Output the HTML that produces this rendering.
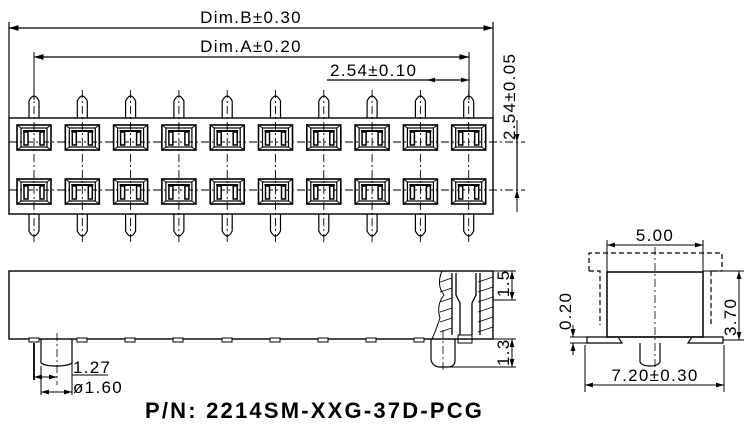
<!DOCTYPE html>
<html><head><meta charset="utf-8"><style>
html,body{margin:0;padding:0;background:#fff;}
svg{display:block;}
text{font-family:"Liberation Sans",Arial,sans-serif;fill:#000;}
.d{font-size:17px;letter-spacing:1.3px;}
</style></head><body>
<svg width="750" height="431" viewBox="0 0 750 431" xmlns="http://www.w3.org/2000/svg">
<defs>
<marker id="a" viewBox="0 0 10 6" refX="10" refY="3" markerWidth="8" markerHeight="5" orient="auto-start-reverse"><path d="M0,0 L10,3 L0,6 z" fill="#000"/></marker>
<g id="sq">
 <rect x="-17" y="-12" width="34" height="25" fill="none" stroke="#000" stroke-width="1.6"/>
 <rect x="-13" y="-9" width="26" height="19" fill="none" stroke="#000" stroke-width="1.2"/>
 <line x1="-17" y1="-12" x2="-13" y2="-9" stroke="#000"/><line x1="17" y1="-12" x2="13" y2="-9" stroke="#000"/>
 <line x1="-17" y1="13" x2="-13" y2="10" stroke="#000"/><line x1="17" y1="13" x2="13" y2="10" stroke="#000"/>
 <rect x="-10" y="-5" width="4" height="13" fill="#fff" stroke="#000" stroke-width="1.5"/>
 <rect x="6" y="-5" width="4" height="13" fill="#fff" stroke="#000" stroke-width="1.5"/>
 <line x1="-11" y1="-6" x2="11" y2="-6" stroke="#000" stroke-width="2"/>
</g>
<g id="pinT"><path d="M-5,23 L-5,6 Q0,-4 5,6 L5,23" fill="none" stroke="#000" stroke-width="1.2"/></g>
<g id="pinB"><path d="M-5,0 L-5,17 Q0,27 5,17 L5,0" fill="none" stroke="#000" stroke-width="1.2"/></g>
</defs>

<!-- top dims -->
<line x1="9" y1="22" x2="9" y2="118" stroke="#000" stroke-width="1.2"/>
<line x1="493" y1="22" x2="493" y2="118" stroke="#000" stroke-width="1.2"/>
<line x1="9" y1="28" x2="493" y2="28" stroke="#000" stroke-width="1.2" marker-start="url(#a)" marker-end="url(#a)"/>
<text x="251" y="23" class="d" text-anchor="middle">Dim.B±0.30</text>
<line x1="34" y1="52" x2="34" y2="100" stroke="#000"/>
<line x1="469" y1="52" x2="469" y2="100" stroke="#000"/>
<line x1="34" y1="57" x2="469" y2="57" stroke="#000" stroke-width="1.2" marker-start="url(#a)" marker-end="url(#a)"/>
<text x="251" y="52" class="d" text-anchor="middle">Dim.A±0.20</text>
<line x1="327" y1="80" x2="469" y2="80" stroke="#000" stroke-width="1.2"/>
<line x1="427" y1="80" x2="469" y2="80" stroke="#000" marker-start="url(#a)" marker-end="url(#a)"/>
<text x="330" y="76" class="d">2.54±0.10</text>

<!-- body top view -->
<rect x="9" y="118" width="484" height="96" fill="#fff" stroke="#000" stroke-width="1.4"/>
<line x1="9" y1="142" x2="525" y2="142" stroke="#000" stroke-width="0.9" stroke-dasharray="8,3,2,3"/>
<line x1="9" y1="190" x2="525" y2="190" stroke="#000" stroke-width="0.9" stroke-dasharray="8,3,2,3"/>
<g>
<use href="#pinT" x="34" y="95"/><use href="#pinT" x="82.3" y="95"/><use href="#pinT" x="130.6" y="95"/><use href="#pinT" x="178.9" y="95"/><use href="#pinT" x="227.2" y="95"/><use href="#pinT" x="275.5" y="95"/><use href="#pinT" x="323.8" y="95"/><use href="#pinT" x="372.1" y="95"/><use href="#pinT" x="420.4" y="95"/><use href="#pinT" x="468.7" y="95"/>
<use href="#pinB" x="34" y="214"/><use href="#pinB" x="82.3" y="214"/><use href="#pinB" x="130.6" y="214"/><use href="#pinB" x="178.9" y="214"/><use href="#pinB" x="227.2" y="214"/><use href="#pinB" x="275.5" y="214"/><use href="#pinB" x="323.8" y="214"/><use href="#pinB" x="372.1" y="214"/><use href="#pinB" x="420.4" y="214"/><use href="#pinB" x="468.7" y="214"/>
<use href="#sq" x="34" y="137"/><use href="#sq" x="82.3" y="137"/><use href="#sq" x="130.6" y="137"/><use href="#sq" x="178.9" y="137"/><use href="#sq" x="227.2" y="137"/><use href="#sq" x="275.5" y="137"/><use href="#sq" x="323.8" y="137"/><use href="#sq" x="372.1" y="137"/><use href="#sq" x="420.4" y="137"/><use href="#sq" x="468.7" y="137"/>
<use href="#sq" x="34" y="191"/><use href="#sq" x="82.3" y="191"/><use href="#sq" x="130.6" y="191"/><use href="#sq" x="178.9" y="191"/><use href="#sq" x="227.2" y="191"/><use href="#sq" x="275.5" y="191"/><use href="#sq" x="323.8" y="191"/><use href="#sq" x="372.1" y="191"/><use href="#sq" x="420.4" y="191"/><use href="#sq" x="468.7" y="191"/>
</g>
<g stroke="#000" stroke-width="0.9" stroke-dasharray="8,3,2,3">
<line x1="34" y1="90" x2="34" y2="242"/><line x1="82.3" y1="90" x2="82.3" y2="242"/><line x1="130.6" y1="90" x2="130.6" y2="242"/><line x1="178.9" y1="90" x2="178.9" y2="242"/><line x1="227.2" y1="90" x2="227.2" y2="242"/><line x1="275.5" y1="90" x2="275.5" y2="242"/><line x1="323.8" y1="90" x2="323.8" y2="242"/><line x1="372.1" y1="90" x2="372.1" y2="242"/><line x1="420.4" y1="90" x2="420.4" y2="242"/><line x1="468.7" y1="90" x2="468.7" y2="242"/>
</g>
<line x1="517" y1="120" x2="517" y2="142" stroke="#000" marker-end="url(#a)"/>
<line x1="517" y1="142" x2="517" y2="190" stroke="#000" stroke-width="1.2"/>
<line x1="517" y1="212" x2="517" y2="190" stroke="#000" marker-end="url(#a)"/>
<text transform="translate(515,140) rotate(-90)" class="d">2.54±0.05</text>

<!-- side view -->
<rect x="9" y="271" width="484" height="68" fill="none" stroke="#000" stroke-width="1.4"/>
<g fill="none" stroke="#000" stroke-width="1">
<path d="M442,271 Q436,285 444,295 Q436,305 440,318 Q436,330 432,339"/>
<g stroke-width="0.7">
<line x1="440" y1="282" x2="452" y2="278"/><line x1="440" y1="292" x2="452" y2="288"/><line x1="440" y1="302" x2="452" y2="298"/><line x1="440" y1="312" x2="452" y2="308"/><line x1="440" y1="322" x2="452" y2="318"/><line x1="440" y1="332" x2="452" y2="328"/>
<line x1="478" y1="282" x2="493" y2="277"/><line x1="478" y1="292" x2="493" y2="287"/><line x1="478" y1="302" x2="493" y2="297"/><line x1="478" y1="312" x2="493" y2="307"/><line x1="478" y1="322" x2="493" y2="317"/><line x1="478" y1="332" x2="493" y2="327"/>
</g>
<path d="M456,273 L456,295 L460,303 L460,335 M476,273 L476,295 L472,303 L472,335" stroke-width="1.3"/>
<path d="M452,273 L452,335 M480,273 L480,335" stroke-width="1.3"/>
<rect x="458" y="335" width="14" height="8"/>
<path d="M431,339 L431,360 Q433,367 440,367 L448,367 Q455,367 455,360 L455,339" stroke-width="1.2"/>
<path d="M41,339 L41,363 Q45,366 56,366 Q68,366 72,363 L72,339" stroke-width="1.2"/>
</g>
<g fill="#fff" stroke="#000" stroke-width="1">
<rect x="29" y="338" width="10" height="4"/><rect x="77" y="338" width="10" height="4"/><rect x="125" y="338" width="10" height="4"/><rect x="173" y="338" width="10" height="4"/><rect x="222" y="338" width="10" height="4"/><rect x="270" y="338" width="10" height="4"/><rect x="318" y="338" width="10" height="4"/><rect x="366" y="338" width="10" height="4"/><rect x="414" y="338" width="10" height="4"/>
</g>
<line x1="57" y1="333" x2="57" y2="385" stroke="#000" stroke-width="0.8" stroke-dasharray="8,3,2,3"/>
<line x1="443" y1="330" x2="443" y2="372" stroke="#000" stroke-width="0.8" stroke-dasharray="8,3,2,3"/>
<line x1="34" y1="343" x2="34" y2="380" stroke="#000" stroke-width="1.8"/>
<line x1="34" y1="377" x2="57" y2="377" stroke="#000" marker-start="url(#a)" marker-end="url(#a)"/>
<line x1="41" y1="366" x2="41" y2="395" stroke="#000"/>
<line x1="72" y1="346" x2="72" y2="395" stroke="#000"/>
<line x1="41" y1="392" x2="72" y2="392" stroke="#000" marker-start="url(#a)" marker-end="url(#a)"/>
<line x1="72" y1="375" x2="108" y2="375" stroke="#000"/>
<text x="73" y="373" class="d">1.27</text>
<text x="73" y="393" class="d">ø1.60</text>
<line x1="493" y1="271" x2="516" y2="271" stroke="#000"/>
<line x1="493" y1="300" x2="516" y2="300" stroke="#000"/>
<line x1="512" y1="271" x2="512" y2="300" stroke="#000" marker-start="url(#a)" marker-end="url(#a)"/>
<text transform="translate(509,297) rotate(-90)" class="d">1.5</text>
<line x1="493" y1="339" x2="516" y2="339" stroke="#000"/>
<line x1="443" y1="367" x2="516" y2="367" stroke="#000"/>
<line x1="512" y1="339" x2="512" y2="367" stroke="#000" marker-start="url(#a)" marker-end="url(#a)"/>
<text transform="translate(509,366) rotate(-90)" class="d">1.3</text>

<text x="145" y="418" font-size="22" font-weight="bold" letter-spacing="2.2">P/N: 2214SM-XXG-37D-PCG</text>

<!-- end view -->
<g fill="none" stroke="#000" stroke-width="1.2">
<path d="M589,271 L589,253 L722,253 L722,271" stroke-dasharray="5,3"/>
<path d="M589,271 L600,271 L600,325 M712,271 L722,271 M711,271 L711,325" stroke-dasharray="5,3"/>
<rect x="607" y="272" width="96" height="65" stroke-width="1.5"/>
<path d="M587,337 L618,337 L622,343 L587,343 z M723,337 L692,337 L688,343 L723,343 z"/>
<path d="M618,337 L692,337"/>
<path d="M640,343 L640,362 Q642,366 650,366 Q658,366 660,362 L660,343"/>
<line x1="655" y1="247" x2="655" y2="375" stroke-width="0.8" stroke-dasharray="8,3,2,3"/>
<line x1="607" y1="240" x2="607" y2="272" stroke-width="1"/><line x1="703" y1="240" x2="703" y2="272" stroke-width="1"/>
<line x1="607" y1="245" x2="703" y2="245" stroke-width="1" marker-start="url(#a)" marker-end="url(#a)"/>
<line x1="703" y1="271" x2="744" y2="271" stroke-width="1"/><line x1="723" y1="340" x2="744" y2="340" stroke-width="1"/>
<line x1="739" y1="271" x2="739" y2="340" stroke-width="1" marker-start="url(#a)" marker-end="url(#a)"/>
<line x1="585" y1="345" x2="585" y2="392" stroke-width="1"/><line x1="724" y1="345" x2="724" y2="392" stroke-width="1"/>
<line x1="585" y1="385" x2="724" y2="385" stroke-width="1" marker-start="url(#a)" marker-end="url(#a)"/>
<line x1="570" y1="337" x2="590" y2="337" stroke-width="1"/><line x1="570" y1="343" x2="590" y2="343" stroke-width="1"/>
<line x1="573" y1="325" x2="573" y2="337" stroke-width="1" marker-end="url(#a)"/>
<line x1="573" y1="355" x2="573" y2="343" stroke-width="1" marker-end="url(#a)"/>
</g>
<text x="655" y="241" class="d" text-anchor="middle">5.00</text>
<text transform="translate(736,336) rotate(-90)" class="d">3.70</text>
<text transform="translate(571,330) rotate(-90)" class="d">0.20</text>
<text x="655" y="381" class="d" text-anchor="middle">7.20±0.30</text>
</svg>
</body></html>
